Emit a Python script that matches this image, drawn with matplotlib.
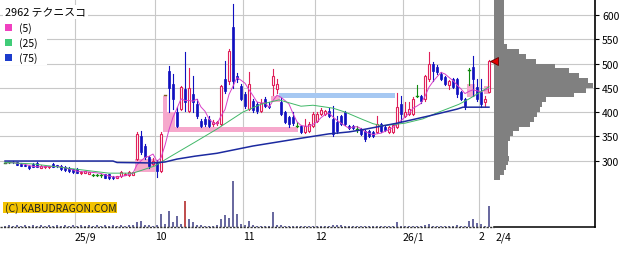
import matplotlib
matplotlib.use('Agg')
import matplotlib.pyplot as plt
from matplotlib.patches import Rectangle
import numpy as np
import pandas as pd

plt.rcParams['font.family'] = ['Noto Sans CJK JP', 'DejaVu Sans']

# trading days (TSE holidays removed)
jp_holidays = ['2025-08-11', '2025-09-15', '2025-09-23', '2025-10-13', '2025-11-03',
               '2025-11-24', '2025-12-31', '2026-01-01', '2026-01-02', '2026-01-12']
dates = pd.bdate_range('2025-08-05', '2026-02-04', freq='C', holidays=jp_holidays)

opens = [295, 296, 298, 297, 293, 291, 289, 293, 295, 285, 286, 286, 293, 290, 289, 287,
         285, 282, 283, 274, 275, 273, 271, 271, 270, 272, 272, 267, 265, 268, 271, 270,
         271, 303, 350, 330, 307, 293, 297, 279, 435, 485, 458, 400, 406, 447, 402, 437,
         416, 382, 386, 386, 375, 377, 375, 468, 464, 575, 474, 454, 437, 406, 423, 416,
         402, 427, 413, 456, 447, 421, 400, 390, 390, 372, 371, 359, 361, 371, 381, 396,
         396, 402, 386, 379, 392, 400, 371, 371, 365, 365, 361, 361, 359, 359, 375, 369,
         359, 359, 369, 416, 392, 396, 396, 433, 433, 427, 468, 499, 493, 478, 472, 456,
         468, 468, 441, 427, 487, 493, 452, 441, 421, 441]
highs = [297, 298, 299, 298, 294, 292, 291, 294, 296, 290, 289, 289, 294, 291, 290, 288,
         286, 283, 284, 278, 279, 277, 273, 273, 272, 273, 273, 268, 269, 279, 275, 278,
         277, 358, 361, 334, 309, 305, 301, 359, 435, 495, 478, 410, 454, 523, 491, 474,
         427, 386, 390, 392, 383, 382, 456, 505, 530, 623, 480, 458, 441, 482, 427, 420,
         427, 431, 421, 489, 468, 429, 402, 392, 400, 379, 373, 386, 380, 400, 400, 408,
         404, 408, 412, 392, 394, 402, 373, 373, 371, 367, 363, 363, 361, 392, 377, 371,
         371, 375, 440, 433, 421, 421, 431, 456, 435, 476, 524, 503, 497, 482, 474, 466,
         470, 470, 443, 429, 491, 516, 468, 468, 433, 507]
lows = [294, 295, 295, 290, 288, 288, 283, 286, 286, 284, 285, 285, 286, 287, 281, 279,
        277, 275, 274, 273, 274, 272, 268, 268, 267, 264, 262, 262, 264, 267, 270, 269,
        270, 301, 313, 303, 285, 291, 266, 277, 435, 400, 406, 369, 404, 402, 400, 400,
        388, 369, 372, 369, 371, 373, 373, 440, 458, 450, 462, 425, 408, 404, 400, 398,
        400, 410, 409, 435, 439, 394, 377, 369, 374, 369, 357, 357, 359, 369, 379, 394,
        394, 390, 351, 357, 373, 373, 365, 365, 359, 353, 340, 349, 349, 357, 359, 361,
        357, 357, 367, 381, 390, 394, 394, 431, 419, 423, 464, 464, 478, 466, 456, 448,
        450, 431, 425, 406, 456, 433, 423, 410, 412, 441]
closes = [295, 296, 296, 291, 289, 289, 284, 287, 287, 289, 288, 288, 287, 288, 282, 280,
          278, 276, 275, 277, 278, 276, 271, 271, 270, 265, 263, 263, 268, 277, 272, 277,
          276, 355, 317, 307, 289, 299, 279, 355, 435, 450, 427, 371, 452, 420, 449, 420,
          392, 371, 376, 371, 379, 379, 454, 443, 526, 464, 468, 427, 412, 458, 404, 402,
          418, 413, 411, 474, 458, 396, 379, 375, 377, 372, 359, 371, 375, 396, 396, 404,
          402, 392, 355, 361, 375, 375, 367, 367, 365, 355, 344, 351, 351, 375, 361, 363,
          369, 373, 410, 396, 400, 406, 427, 433, 423, 474, 499, 485, 482, 468, 458, 464,
          452, 437, 427, 410, 487, 468, 427, 416, 427, 505]
volume = [1, 2, 1, 2, 1, 2, 1, 2, 1, 2, 1, 2, 1, 2, 1, 2,
          1, 2, 1, 2, 1, 2, 1, 2, 1, 2, 1, 2, 1, 2, 1, 2,
          2, 5, 6, 2, 2, 1, 2, 13, 3, 16, 5, 11, 3, 26, 8, 5,
          2, 2, 1, 1, 1, 2, 8, 12, 9, 46, 13, 3, 2, 6, 2, 1,
          1, 1, 1, 15, 2, 2, 1, 1, 1, 1, 1, 1, 1, 1, 1, 1,
          1, 1, 2, 2, 2, 1, 1, 1, 1, 1, 1, 1, 1, 1, 1, 1,
          1, 1, 5, 1, 1, 1, 1, 1, 1, 2, 3, 1, 1, 1, 1, 1,
          1, 2, 1, 1, 6, 8, 4, 3, 1, 21]
vol_hot_day = 45

# moving averages 25 / 75
ma25_idx = [0, 7, 26, 32, 37.5, 41.5, 47.5, 53, 59.5, 64, 68.5, 74, 77, 82, 85, 89,
            92, 94, 97, 100, 104.5, 108.5, 113.5, 116, 121]
ma25_val = [296, 293, 274, 274, 289, 309, 338, 365, 400, 416, 425, 412, 414, 408, 400, 386,
            376, 372, 374, 377, 386, 400, 416, 427, 452]
ma75_idx = [0, 27, 28, 37, 40, 43, 47.5, 53, 62, 68, 74, 81, 86, 89, 98, 106, 113, 114.5, 121]
ma75_val = [299, 299, 296, 295, 297, 303, 309, 315, 330, 338, 346, 355, 359, 363, 377, 392,
            406, 410, 410]

# open gaps (window) zones: start, end, low, high, up/down
gap_x0 = [32.5, 39.5, 40.5, 42.5, 66.5, 68.5, 115.5, 119.7]
gap_x1 = [37.5, 40.5, 42.5, 73.3, 68.7, 97.6, 117.5, 121.3]
gap_lo = [276, 359, 359, 359, 421, 429, 431, 437]
gap_hi = [304, 433, 400, 369, 433, 439, 458, 454]
gap_up = [True, True, True, True, True, False, True, True]

# price-by-volume profile
vp_price = [260, 270, 280, 290, 300, 310, 320, 330, 340, 350, 360, 370, 380, 390, 400,
            410, 420, 430, 440, 450, 460, 470, 480, 490, 500, 510, 520, 530, 540, 550,
            560, 570, 580, 590, 600, 610, 620]
vp_vol = [6, 10, 12, 14, 15, 14, 14, 14, 16, 19, 25, 36, 40, 43, 46,
          48, 52, 80, 92, 99, 94, 85, 75, 61, 42, 32, 25, 13, 10, 10,
          10, 10, 10, 10, 10, 10, 10]

month_labels = ['25/9', '10', '11', '12', '26/1', '2']
last_label = '2/4'

n = len(closes)
x = np.arange(n)
ma5 = pd.Series(closes).rolling(5, min_periods=1).mean()

W, H = 640, 255
fig = plt.figure(figsize=(W / 100, H / 100), dpi=100)
fig.patch.set_facecolor('white')
ax = fig.add_axes([0, 27 / H, 595 / W, 228 / H])
ax2 = ax.twinx()
ax.set_zorder(ax2.get_zorder() + 1)
ax.patch.set_visible(False)

ax.set_xlim(-1.25, 147.5)
ax.set_ylim(163, 633)
ax2.set_ylim(0, 228)

# volume
vcol = ['#c05050' if i == vol_hot_day else '#6a6aa0' for i in range(n)]
ax2.bar(x, volume, width=0.28, color=vcol, linewidth=0)
ax2.axis('off')

# grid
mfirst = [i for i in range(1, n) if dates[i].month != dates[i - 1].month]
for i in mfirst:
    ax.axvline(i - 0.5, color='#c8c8c8', lw=0.8, zorder=0)
for p in range(300, 601, 50):
    ax.axhline(p, color='#c8c8c8', lw=0.8, zorder=0)

# gap zones
for a, b, lo, hi, up in zip(gap_x0, gap_x1, gap_lo, gap_hi, gap_up):
    ax.add_patch(Rectangle((a, lo), b - a, hi - lo, facecolor='#f6a8cc' if up else '#a6c8f2',
                           edgecolor='none', zorder=1))

# candles
bw = 0.68
for i in range(n):
    o, h, l, c = opens[i], highs[i], lows[i], closes[i]
    if c > o:
        col = '#e0205a'
        ax.plot([i, i], [l, h], color=col, lw=0.8, zorder=3)
        ax.add_patch(Rectangle((i - bw / 2, o), bw, c - o, facecolor='white', edgecolor=col,
                               lw=0.8, zorder=3.5))
    elif c < o:
        col = '#1010c0'
        ax.plot([i, i], [l, h], color=col, lw=0.8, zorder=3)
        ax.add_patch(Rectangle((i - bw / 2, c), bw, o - c, facecolor=col, edgecolor=col,
                               lw=0.5, zorder=3.5))
    else:
        col = '#108a10' if h > l else '#806020'
        ax.plot([i, i], [l, h], color=col, lw=0.8, zorder=3)
        ax.plot([i - bw / 2, i + bw / 2], [o, o], color=col, lw=1.0, zorder=3.5)

# moving averages
ax.plot(x, ma5, color='#d840c8', lw=0.7, zorder=4)
ax.plot(ma25_idx, ma25_val, color='#40b868', lw=0.7, zorder=4)
ax.plot(ma75_idx, ma75_val, color='#1c2aa0', lw=1.1, zorder=4)

# volume profile
vmax = max(vp_vol)
ax.barh(vp_price, [v / vmax * 24.7 for v in vp_vol], height=10, left=n + 0.25,
        align='edge', color='#808080', linewidth=0, zorder=2)
ax.plot(n + 0.35, closes[-1], marker='<', ms=6, color='#e00000', mec='#600000', mew=0.6,
        zorder=5)

# axes styling
for s in ['left', 'top']:
    ax.spines[s].set_visible(False)
ax.spines['right'].set_linewidth(1.2)
ax.spines['bottom'].set_linewidth(1.1)
ax.spines['bottom'].set_bounds(n + 0.25, 147.5)
ax.plot([-1.25, n + 0.25], [163.5, 163.5], color='#333333', lw=1.0, dashes=(1.6, 0.9),
        zorder=4, clip_on=False)
ax.yaxis.tick_right()
ax.set_yticks(range(300, 601, 50))
ax.tick_params(axis='y', length=3, width=0.8, labelsize=7.5, pad=2)
ax.set_xticks([i - 0.5 for i in mfirst])
ax.set_xticklabels(month_labels)
ax.tick_params(axis='x', length=0, labelsize=7.5, pad=3)
for t in ax.get_xticklabels():
    t.set_horizontalalignment('left')
ax.text(n + 0.6, -0.018, last_label, transform=ax.get_xaxis_transform(), fontsize=7.5,
        ha='left', va='top')

# legend block
fig.patches.append(Rectangle((0, 1 - 66 / H), 47 / W, 46 / H, transform=fig.transFigure,
                             facecolor='white', edgecolor='none', zorder=5))
fig.text(5 / W, 1 - 13 / H, '2962 テクニスコ', fontsize=7.8, va='center', ha='left',
         zorder=6, bbox=dict(facecolor='white', edgecolor='none', pad=1.5))
for k, (lab, col) in enumerate([('(5)', '#f040c0'), ('(25)', '#40cc78'), ('(75)', '#1c3ccc')]):
    yc = 28.5 + 15 * k
    fig.patches.append(Rectangle((5 / W, 1 - (yc + 3.5) / H), 7 / W, 7 / H,
                                 transform=fig.transFigure, facecolor=col,
                                 edgecolor='none', zorder=6))
    fig.text(19 / W, 1 - yc / H, lab, fontsize=7.5, va='center', ha='left', zorder=7)

# copyright tag
fig.patches.append(Rectangle((3 / W, 1 - 214 / H), 114 / W, 11 / H, transform=fig.transFigure,
                             facecolor='#f2c200', edgecolor='none', zorder=5))
fig.text(5 / W, 1 - 208.5 / H, '(C) KABUDRAGON.COM', fontsize=7.5, va='center', ha='left',
         color='#222222', zorder=6)

fig.savefig('out.png', dpi=100)
